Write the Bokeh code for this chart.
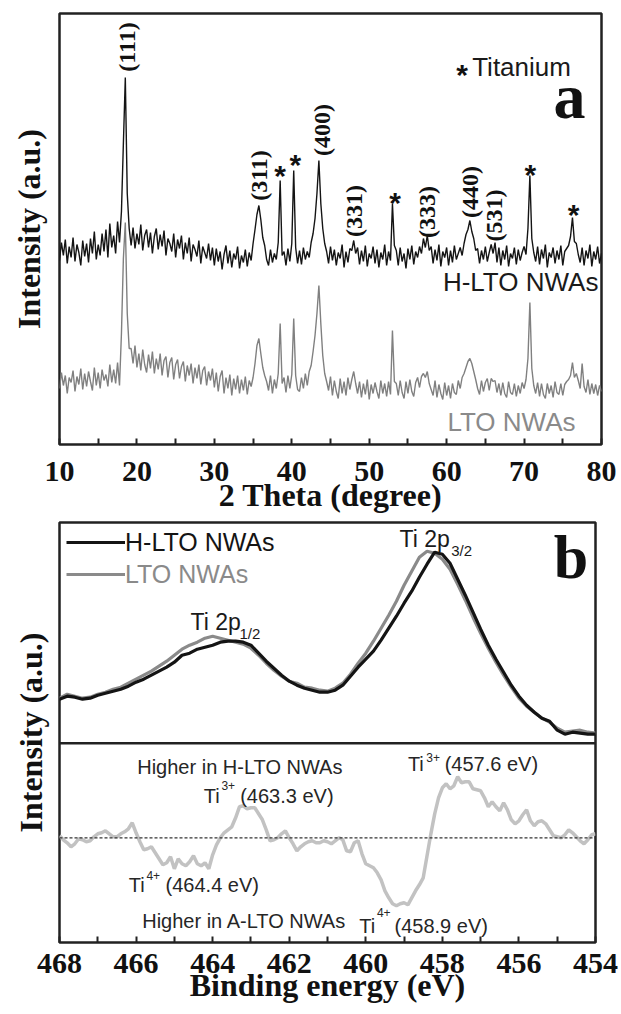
import numpy as np
from bokeh.plotting import figure
from bokeh.models import Range1d, FixedTicker, Span, Legend, LegendItem
from bokeh.layouts import column
from bokeh.core.properties import value
from bokeh.embed import file_html
from bokeh.resources import INLINE

SERIF = "Liberation Serif"
SANS = "Liberation Sans"

# ---------------- panel a : XRD (2 theta sampled every 0.25 deg from 10) ----------------
xrd_start, xrd_step = 10.0, 0.25
h_lto = [183,201,188,204,180,197,186,206,182,199,191,178,203,187,200,181,205,190,212,184,199,188,210,192,214,186,220,196,208,190,222,201,
         232,300,366,250,215,
         198,216,195,210,199,219,193,208,214,196,211,190,207,215,194,209,197,213,188,205,200,192,210,186,204,195,208,184,201,190,206,182,199,194,187,203,180,197,191,185,200,183,196,
         178,195,182,192,174,189,198,180,193,176,190,184,197,175,188,181,194,177,191,183,
         200,214,229,238,224,206,198,184,
         178,194,181,190,
         184,201,263,188,
         192,178,195,182,
         200,273,196,180,
         193,179,196,184,192,186,201,
         210,225,250,283,240,215,200,192,
         180,197,183,194,178,191,185,199,176,192,181,195,
         193,203,190,
         196,179,193,182,198,177,190,185,197,180,194,176,191,184,199,178,192,183,
         240,198,
         193,178,196,182,190,175,195,184,198,179,192,186,197,190,
         205,196,208,193,
         197,180,194,183,199,177,192,186,196,178,193,181,198,184,190,196,188,
         200,209,214,223,212,205,193,
         195,180,193,184,197,182,191,
         199,190,201,
         181,196,178,193,184,198,177,190,185,196,179,194,183,191,197,189,
         215,268,205,191,
         182,197,179,194,185,199,176,191,186,196,180,193,184,198,178,192,195,
         198,207,226,202,200,189,
         181,196,178,193,185,199,177,192,184,197,180,190]
lto = [55,71,58,68,50,66,61,73,52,67,59,75,54,70,57,72,62,53,76,58,71,55,74,63,69,57,79,61,74,60,81,58,
       110,185,221,130,95,
       95,80,98,76,90,73,94,79,71,89,75,92,70,85,74,90,68,83,87,66,81,86,64,79,84,65,77,82,62,78,68,80,60,76,65,79,59,73,77,58,72,63,75,
       56,71,52,67,73,50,66,55,69,48,65,54,68,50,64,53,67,49,63,57,
       66,80,98,105,90,76,68,62,
       53,68,50,64,
       55,70,120,60,
       66,51,68,55,
       69,125,68,54,
       52,66,55,70,58,72,78,
       92,108,130,158,120,88,70,62,
       53,67,48,63,52,45,65,50,62,48,66,54,
       64,72,60,
       50,62,46,60,49,64,44,59,50,61,52,45,63,50,60,47,62,49,
       113,62,
       60,48,63,51,45,62,50,64,52,47,61,66,56,67,
       70,66,72,60,
       54,48,63,46,59,50,44,61,48,58,45,60,51,49,63,55,66,
       70,76,82,85,80,72,64,
       55,49,63,52,61,65,53,
       65,62,63,
       51,60,48,61,50,46,62,51,49,60,47,58,50,61,55,64,
       85,141,75,58,
       50,61,47,60,49,45,60,50,58,46,62,51,49,60,48,59,62,
       64,68,81,66,70,63,
       55,80,57,51,64,49,60,50,59,48,58,52]
theta_h = xrd_start + xrd_step * np.arange(len(h_lto))
theta_l = xrd_start + xrd_step * np.arange(len(lto))

xrd_ticks = [10, 20, 30, 40, 50, 60, 70, 80]
xrd_minor = [15, 25, 35, 45, 55, 65, 75]

hkl_labels = ["(111)", "(311)", "(400)", "(331)", "(333)", "(440)", "(531)"]
hkl_x = [18.74, 35.83, 43.93, 48.0, 57.4, 63.08, 66.09]
hkl_y = [396.5, 268, 313.5, 232.5, 231.5, 251.5, 228]
ti_star_x = [38.5, 40.45, 53.35, 70.8, 76.4]
ti_star_y = [275, 286, 248, 276, 236]

# ---------------- panel b : XPS Ti 2p (binding energy every 0.2 eV from 468) -------------
be_start, be_step = 468.0, -0.2
xps_h = [44,47,46,44,45,48,50,52,54,57,61,64,68,72,76,81,88,90,94,96,98,
         101,102,102,101,98,90,82,75,68,62,58,55,53,51,51,53,58,67,76,84,
         92,103,115,127,140,152,166,179,191,189,180,164,148,131,114,98,84,71,58,47,
         38,31,25,22,13,9,11,10,9,9]
xps_l = [45,49,47,45,46,49,51,54,56,60,64,68,72,77,82,88,94,98,101,105,107,
         105,103,101,99,95,88,80,73,67,62,60,56,55,53,52,55,60,69,80,90,
         102,115,128,142,158,172,186,192,190,184,174,159,143,126,110,95,81,68,56,45,
         37,31,25,21,15,11,12,13,11,10]
be_main = be_start + be_step * np.arange(len(xps_h))

diff_start, diff_step = 468.0, -0.1
diff_vals = [2,-2,-5,-9,-6,-1,-2,-4,-3,1,4,
             5,7,4,1,1,4,6,9,15,5,
             -4,-12,-11,-9,-15,-21,-27,-25,-19,-31,
             -21,-26,-28,-24,-18,-26,-28,-25,-31,-17,
             -7,0,5,8,11,20,31,32,29,30,
             30,24,18,8,-3,-2,0,4,7,0,
             -6,-13,-9,-6,-4,-3,-5,-5,-3,-4,
             -6,-3,0,-2,-13,-14,-5,-3,-16,-26,
             -28,-30,-35,-42,-53,-60,-66,-68,-66,-65,
             -67,-60,-53,-47,-40,-18,4,24,40,50,
             54,49,52,61,55,56,56,49,48,47,
             40,31,36,31,27,35,28,18,14,17,
             23,28,17,12,16,17,14,8,2,1,
             0,3,8,5,1,-3,-6,-2,3,4]
be_diff = diff_start + diff_step * np.arange(len(diff_vals))

xps_ticks = [454, 456, 458, 460, 462, 464, 466, 468]
xps_minor = [455, 457, 459, 461, 463, 465, 467]

top_txt = ["Ti 2p", "1/2", "Ti 2p", "3/2"]
top_x = [464.58, 463.30, 459.12, 457.77]
top_y = [121, 109.7, 204.4, 192.7]
top_size = ["23px", "15px", "23px", "15px"]

bot_txt = ["Higher in H-LTO NWAs", "Ti", "3+", "(463.3 eV)",
           "Ti", "4+", "(464.4 eV)", "Higher in A-LTO NWAs",
           "Ti", "3+", "(457.6 eV)", "Ti", "4+", "(458.9 eV)"]
bot_x = [465.97, 464.23, 463.77, 463.28,
         466.19, 465.73, 465.23, 465.84,
         458.90, 458.42, 457.94, 460.17, 459.71, 459.25]
bot_y = [71.3, 42.3, 52.3, 42.3,
         -46.7, -37.7, -46.7, -82.7,
         74, 80.6, 74, -87.7, -74.4, -87.7]
bot_size = ["20px", "20px", "12px", "20px",
            "20px", "12px", "20px", "20px",
            "20px", "12px", "20px", "20px", "12px", "20px"]

FRAME = "#222222"


def style_axis(ax, ticks, minor):
    ax.ticker = FixedTicker(ticks=ticks, minor_ticks=minor)
    ax.axis_line_color = None
    ax.major_tick_in = 6
    ax.major_tick_out = 0
    ax.minor_tick_in = 6
    ax.minor_tick_out = 0
    ax.major_tick_line_width = 2
    ax.minor_tick_line_width = 2
    ax.major_tick_line_color = FRAME
    ax.minor_tick_line_color = FRAME
    ax.major_label_text_font = SERIF
    ax.major_label_text_font_style = "bold"
    ax.major_label_text_font_size = "30px"
    ax.major_label_text_color = "#111111"
    ax.axis_label_text_font = SERIF
    ax.axis_label_text_font_style = "bold"
    ax.axis_label_text_font_size = "32px"
    ax.axis_label_text_color = "#111111"


def style_yaxis(ax, standoff):
    ax.ticker = FixedTicker(ticks=[])
    ax.axis_line_color = None
    ax.major_tick_in = 0
    ax.major_tick_out = 0
    ax.minor_tick_in = 0
    ax.minor_tick_out = 0
    ax.major_label_standoff = 0
    ax.axis_label = "Intensity (a.u.)"
    ax.axis_label_standoff = standoff
    ax.axis_label_text_font = SERIF
    ax.axis_label_text_font_style = "bold"
    ax.axis_label_text_font_size = "32px"
    ax.axis_label_text_color = "#111111"


# ---------------- figure a ----------------
pa = figure(frame_width=542, frame_height=431, min_border_left=59, min_border_right=17,
            min_border_top=13, min_border_bottom=74, title=None,
            x_range=Range1d(10, 80), y_range=Range1d(-1, 430),
            output_backend="svg", toolbar_location=None)
pa.grid.visible = False
pa.outline_line_color = FRAME
pa.outline_line_width = 2.5
pa.background_fill_color = "white"
pa.border_fill_color = "white"
style_axis(pa.xaxis[0], xrd_ticks, xrd_minor)
pa.xaxis.axis_label = "2 Theta (degree)"
pa.xaxis.major_label_standoff = 17
pa.xaxis.axis_label_standoff = -7
style_yaxis(pa.yaxis[0], 13)

pa.line(theta_l, lto, line_color="#808080", line_width=1.4)
pa.line(theta_h, h_lto, line_color="#141414", line_width=1.4)

pa.text(x=hkl_x, y=hkl_y, text=hkl_labels, angle=np.pi / 2, text_align="center",
        text_baseline="middle", text_font=value(SERIF), text_font_style="bold",
        text_font_size="24px", text_color="#111111")
pa.text(x=ti_star_x, y=ti_star_y, text=["*"] * len(ti_star_x), text_align="center",
        text_baseline="middle", y_offset=7, text_font=value(SANS), text_font_style="bold",
        text_font_size="30px", text_color="#111111")
pa.text(x=[61.98], y=[376.3], text=["*"], text_align="center", text_baseline="middle",
        y_offset=7, text_font=value(SANS), text_font_style="bold", text_font_size="30px",
        text_color="#111111")
pa.text(x=[63.3], y=[376.3], text=["Titanium"], text_align="left", text_baseline="middle",
        text_font=value(SANS), text_font_size="26px", text_color="#1a1a1a")
pa.text(x=[75.87], y=[347], text=["a"], text_align="center", text_baseline="middle",
        text_font=value(SERIF), text_font_style="bold", text_font_size="64px",
        text_color="#111111")
pa.text(x=[79.6], y=[161.3], text=["H-LTO NWAs"], text_align="right", text_baseline="middle",
        text_font=value(SANS), text_font_size="26px", text_color="#1a1a1a")
pa.text(x=[76.64], y=[21.3], text=["LTO NWAs"], text_align="right", text_baseline="middle",
        text_font=value(SANS), text_font_size="26px", text_color="#8a8a8a")

# ---------------- figure b ----------------
pb = figure(frame_width=536, frame_height=420, min_border_left=57, min_border_right=25,
            min_border_top=4, min_border_bottom=20, title=None,
            x_range=Range1d(468, 454), y_range=Range1d(-104.7, 315.3),
            output_backend="svg", toolbar_location=None)
pb.extra_y_ranges = {"top": Range1d(-199.3, 220.7)}
pb.grid.visible = False
pb.outline_line_color = FRAME
pb.outline_line_width = 2.5
pb.background_fill_color = "white"
pb.border_fill_color = "white"
style_axis(pb.xaxis[0], xps_ticks, xps_minor)
pb.xaxis.axis_label = "Binding energy (eV)"
pb.xaxis.major_label_standoff = 11
pb.xaxis.axis_label_standoff = -9
style_yaxis(pb.yaxis[0], 11)

pb.add_layout(Span(location=0, dimension="width", y_range_name="top",
                   line_color=FRAME, line_width=2.5))
pb.add_layout(Span(location=0, dimension="width", line_color="#333333",
                   line_width=1.2, line_dash="3 2"))

r_l = pb.line(be_main, xps_l, y_range_name="top", line_color="#8a8a8a", line_width=3.2)
r_h = pb.line(be_main, xps_h, y_range_name="top", line_color="#141414", line_width=3.2)
pb.line(be_diff, diff_vals, line_color="#c2c2c2", line_width=3.5)

for txt_item, rend, col, loc in [("H-LTO NWAs", r_h, "#141414", (7, 385)),
                                 ("LTO NWAs", r_l, "#8a8a8a", (7, 353))]:
    lg = Legend(items=[LegendItem(label=txt_item, renderers=[rend])], location=loc,
                glyph_width=59, glyph_height=30, label_height=30, label_standoff=0,
                padding=0, margin=0, spacing=0, border_line_color=None,
                background_fill_alpha=0, label_text_font=SANS,
                label_text_font_size="25px", label_text_color=col)
    pb.add_layout(lg)

pb.text(x=top_x, y=top_y, text=top_txt, text_font_size=top_size, y_range_name="top",
        text_align="left", text_baseline="middle", text_font=value(SANS),
        text_color="#1a1a1a")
pb.text(x=[454.64], y=[186.2], text=["b"], y_range_name="top", text_align="center",
        text_baseline="middle", text_font=value(SERIF), text_font_style="bold",
        text_font_size="62px", text_color="#111111")
pb.text(x=bot_x, y=bot_y, text=bot_txt, text_font_size=bot_size, text_align="left",
        text_baseline="middle", text_font=value(SANS), text_color="#262626")

layout = column(pa, pb, spacing=0)
open("out.html", "w").write(file_html(layout, INLINE))
